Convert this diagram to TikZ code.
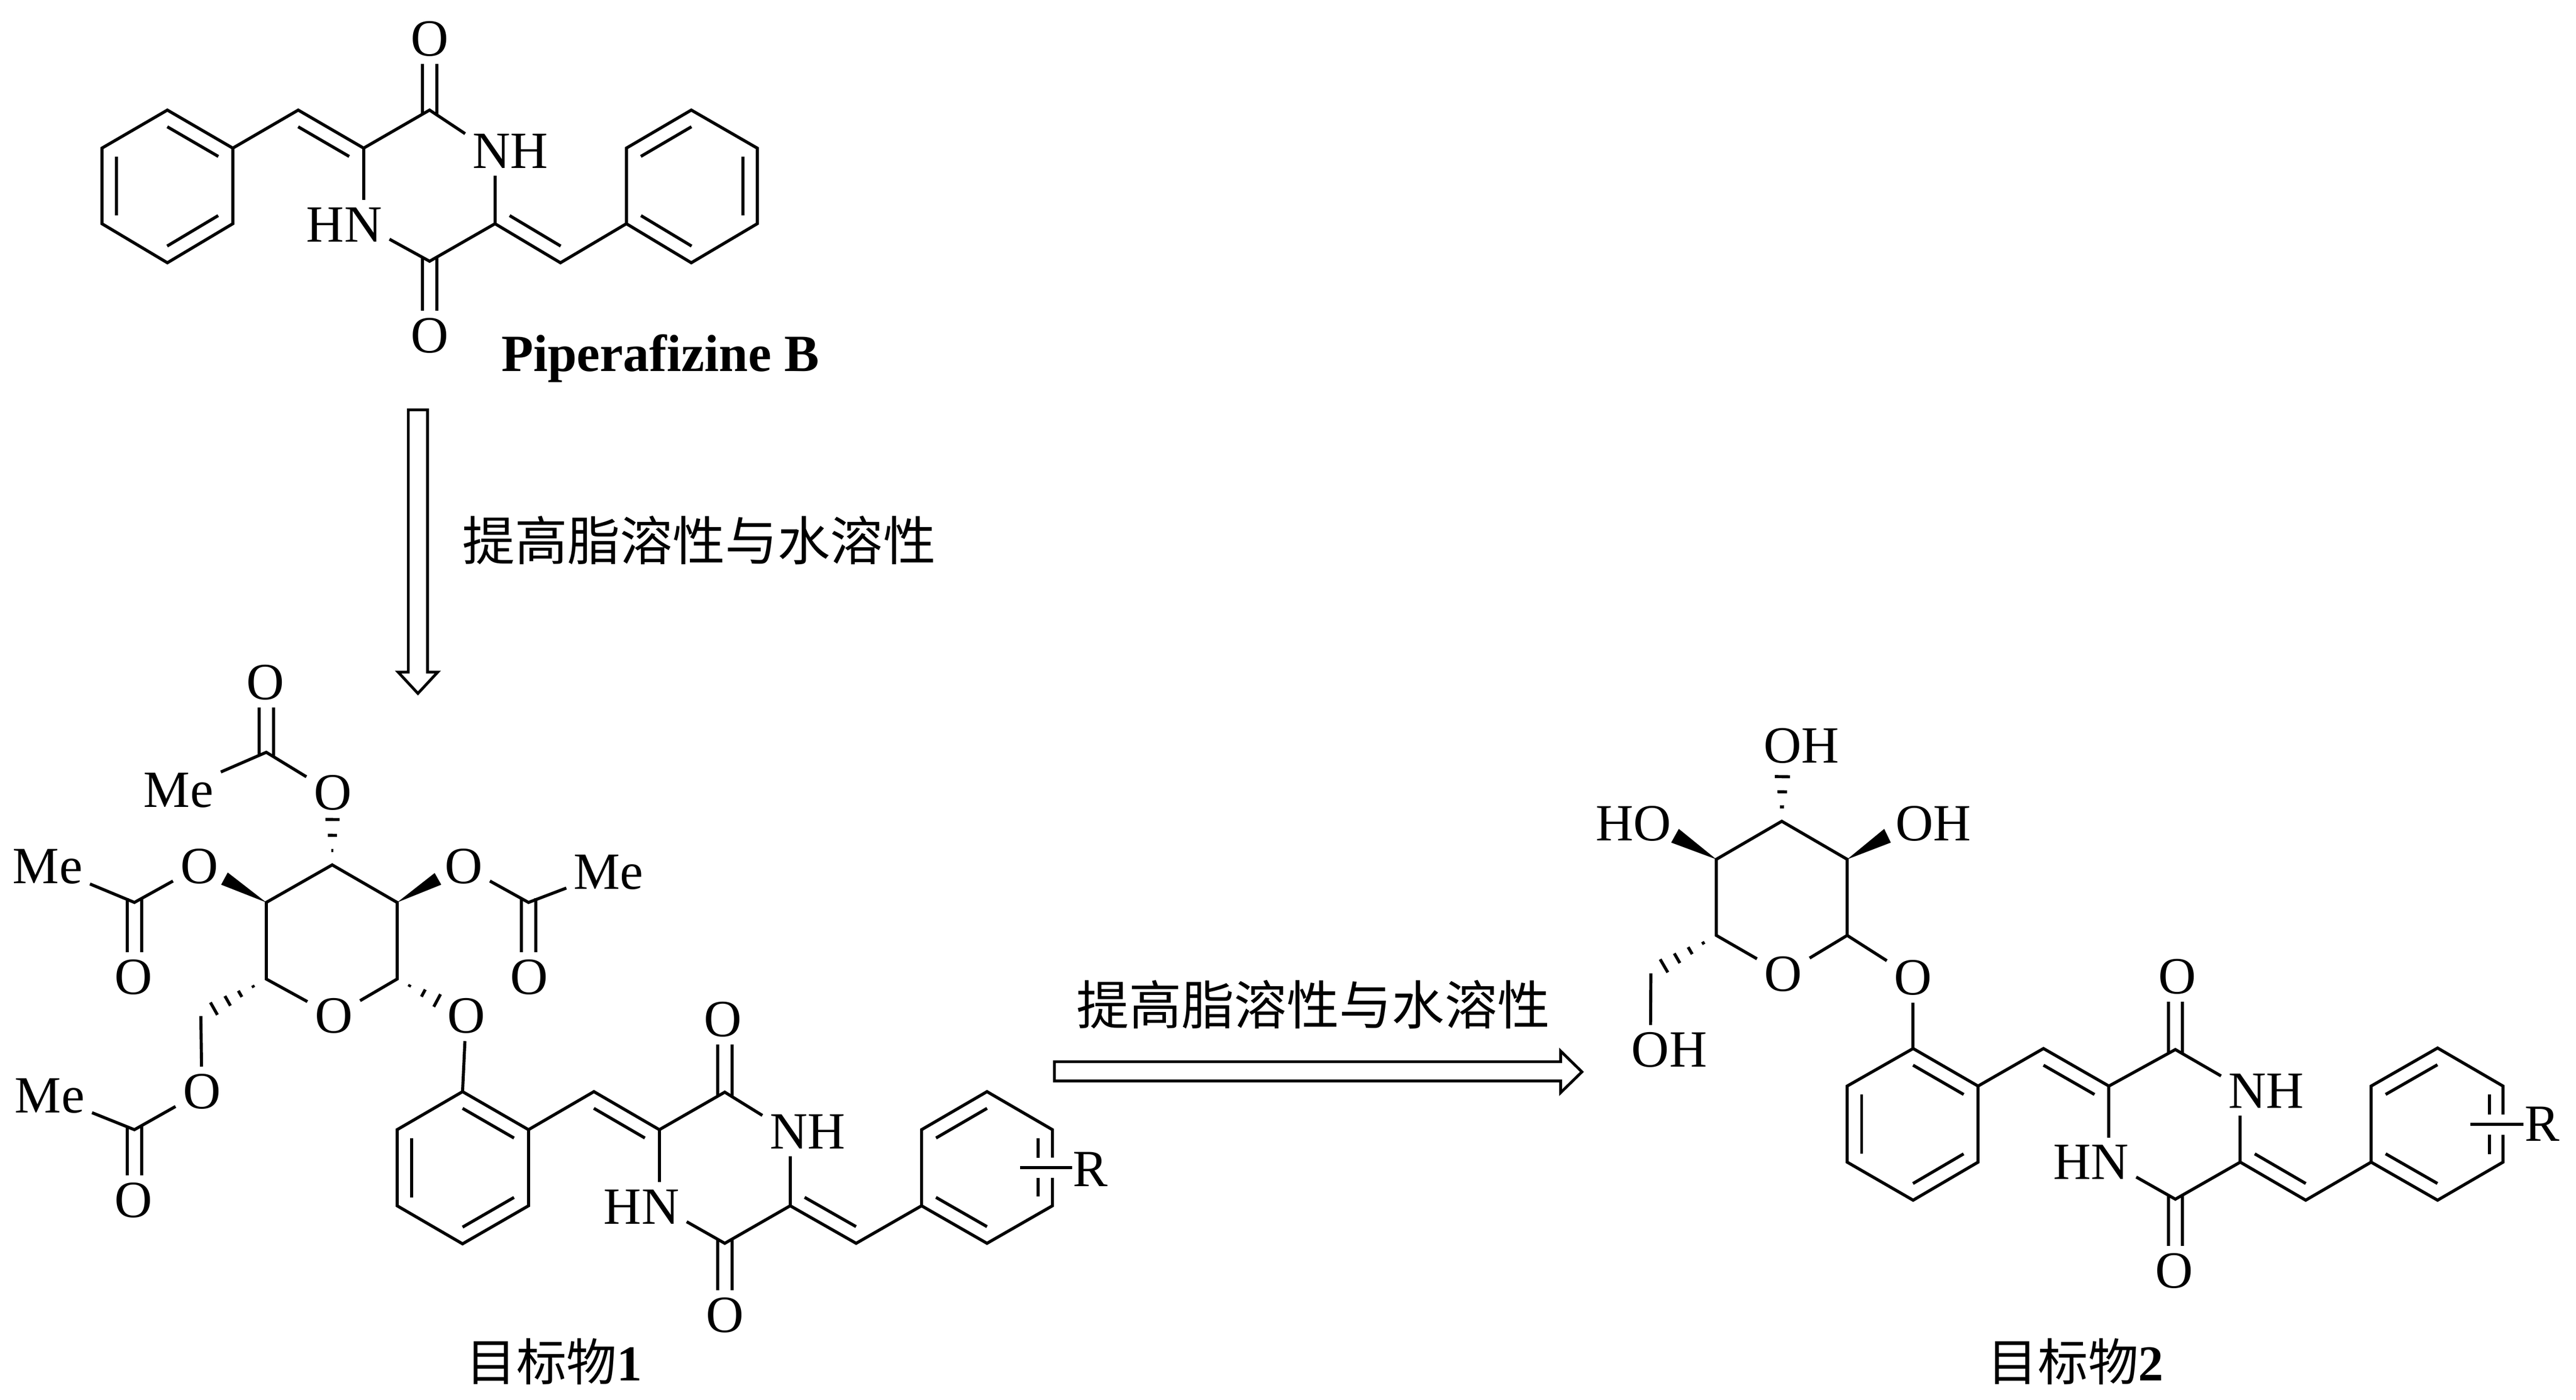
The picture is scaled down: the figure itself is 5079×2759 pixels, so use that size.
\documentclass[tikz,border=0pt]{standalone}
\usepackage{fontspec}
\setmainfont{Liberation Serif}
\newfontfamily\cjk{Noto Sans CJK SC}
\usetikzlibrary{calc}
\tikzset{
  bondl/.style={line width=0.06cm,line cap=butt,line join=miter},
  atom/.style={inner sep=0.14cm,font=\fontsize{29.3}{30}\selectfont},
  atomb/.style={inner sep=0pt,font=\fontsize{29.3}{30}\selectfont\bfseries},
  cjktext/.style={inner sep=0pt,font=\fontsize{29.5}{32}\selectfont\cjk},
  cjklabel/.style={inner sep=0pt,font=\fontsize{28.2}{30}\selectfont\cjk},
  hollow/.style={line width=0.055cm,fill=white,line join=miter}
}
\newcommand{\inb}[2]{\draw[bondl] ($(#1)!0.11!(#2)!0.285cm!-90:(#2)$) -- ($(#2)!0.11!(#1)!0.285cm!90:(#1)$);}
\newcommand{\dbup}[2]{\draw[bondl] ($(#1)+(-.14cm,-.08cm)$) -- ($(#1 |- #2.south)+(-.14cm,0)$);\draw[bondl] ($(#1)+(.14cm,-.08cm)$) -- ($(#1 |- #2.south)+(.14cm,0)$);}
\newcommand{\dbdn}[2]{\draw[bondl] ($(#1)+(-.14cm,.08cm)$) -- ($(#1 |- #2.north)+(-.14cm,0)$);\draw[bondl] ($(#1)+(.14cm,.08cm)$) -- ($(#1 |- #2.north)+(.14cm,0)$);}
\newcommand{\hsh}[4]{\draw[bondl] ($(#1)!#3!(#2)!#4cm!90:(#2)$) -- ($(#1)!#3!(#2)!#4cm!-90:(#2)$);}
\begin{document}
\begin{tikzpicture}[x=0.01cm,y=-0.01cm]
\useasboundingbox (0,0) rectangle (5079,2759);
\fill[white] (0,0) rectangle (5079,2759);
% ---------- Piperafizine B ----------
\foreach \n/\x/\y in {a1/330/217,a2/459/292,a3/459/441,a4/330/518,a5/201/441,a6/201/292,
  b1/1363/217,b2/1493/292,b3/1493/441,b4/1363/518,b5/1235/441,b6/1235/292,
  ch1/588/217,c1/717/292,co1/847/217,c2/976/441,co2/847/515,ch2/1105/518,cn1/717/441,cn2/976/292}
  {\coordinate (p\n) at (\x,\y);}
\node[atom] (pO1) at (847,77) {O};
\node[atom] (pO2) at (847,662) {O};
\node[atom] (pN1) at (969,298) {N\rlap{H}};
\node[atom] (pN2) at (716,443) {\llap{H}N};
\node[atomb,anchor=base west] (pname) at (988,732) {Piperafizine B};
\draw[bondl] (pa1)--(pa2)--(pa3)--(pa4)--(pa5)--(pa6)--cycle;
\draw[bondl] (pb1)--(pb2)--(pb3)--(pb4)--(pb5)--(pb6)--cycle;
\inb{pa1}{pa2}\inb{pa3}{pa4}\inb{pa5}{pa6}
\inb{pb6}{pb1}\inb{pb2}{pb3}\inb{pb4}{pb5}
\draw[bondl] (pa2)--(pch1)--(pc1)--(pco1)--(pN1);
\draw[bondl] (pc1)--(pc1 |- pN2.north);
\draw[bondl] (pb5)--(pch2)--(pc2)--(pco2)--(pN2);
\draw[bondl] (pc2)--(pc2 |- pN1.south);
\inb{pch1}{pc1}\inb{pch2}{pc2}
\dbup{pco1}{pO1}\dbdn{pco2}{pO2}
% ---------- vertical arrow ----------
\coordinate (va1) at (805,808);\coordinate (va2) at (843,808);\coordinate (va3) at (843,1325);
\coordinate (va4) at (863,1325);\coordinate (va5) at (824,1367);\coordinate (va6) at (785,1325);\coordinate (va7) at (805,1325);
\draw[hollow] (va1)--(va2)--(va3)--(va4)--(va5)--(va6)--(va7)--cycle;
\node[cjktext] (vt) at (1378,1065) {提高脂溶性与水溶性};
% ---------- target 1 ----------
\foreach \n/\x/\y in {s3/655/1705,s2/783/1779,s1/783/1930,s5/525/1930,s4/525/1779,ch/396/2003,
  ac1/525/1483,ac2/1042/1779,ac3/265/1779,ac4/265/2227,
  t1/912/2152,t2/1042/2227,t3/1042/2377,t4/912/2452,t5/783/2377,t6/783/2227,
  ch1/1171/2152,c1/1300/2227,co1/1429/2153,c2/1558/2377,co2/1429/2451,ch2/1688/2451,
  r1/1946/2152,r2/2075/2227,r3/2075/2377,r4/1946/2451,r5/1817/2377,r6/1817/2227,
  w1/857/1721,w2/870/1744,w3/449/1720,w4/436/1744,
  ra/2075/2282,rb/2075/2322,ria/2047/2244,rib/2047/2282,ric/2047/2322,rid/2047/2359,rs/2011/2302,re/2114/2302}
  {\coordinate (m\n) at (\x,\y);}
\node[atom] (mOr) at (658,2003) {O};
\node[atom] (mOa) at (656,1563) {O};
\node[atom] (mOb) at (914,1708) {O};
\node[atom] (mOc) at (393,1708) {O};
\node[atom] (mOd) at (398,2152) {O};
\node[atom] (mOe) at (919,2003) {O};
\node[atom] (mOf) at (523,1345) {O};
\node[atom] (mOg) at (1043,1926) {O};
\node[atom] (mOh) at (263,1926) {O};
\node[atom] (mOi) at (263,2366) {O};
\node[atom] (mMa) at (352,1558) {Me};
\node[atom] (mMb) at (1200,1719) {Me};
\node[atom] (mMc) at (94,1708) {Me};
\node[atom] (mMd) at (98,2160) {Me};
\node[atom] (mOj) at (1425,2010) {O};
\node[atom] (mOk) at (1429,2593) {O};
\node[atom] (mN1) at (1555,2231) {N\rlap{H}};
\node[atom] (mN2) at (1302,2379) {\llap{H}N};
\node[atom] (mR) at (2150,2305) {R};
\node[cjklabel,anchor=base west] (mlab) at (918,2722) {目标物\textbf{\fontspec{Liberation Serif}1}};
\draw[bondl] (mOr)--(ms5)--(ms4)--(ms3)--(ms2)--(ms1)--(mOr);
\hsh{ms3}{mOa}{.2}{.02}\hsh{ms3}{mOa}{.41}{.09}\hsh{ms3}{mOa}{.63}{.14}
\fill (ms2)--(mw1)--(mw2)--cycle;
\fill (ms4)--(mw3)--(mw4)--cycle;
\hsh{ms1}{mOe}{.18}{.025}\hsh{ms1}{mOe}{.38}{.08}\hsh{ms1}{mOe}{.58}{.14}
\hsh{ms5}{mch}{.2}{.025}\hsh{ms5}{mch}{.4}{.07}\hsh{ms5}{mch}{.59}{.11}\hsh{ms5}{mch}{.8}{.14}
\draw[bondl] (mch)--(mOd);
\draw[bondl] (mMa)--(mac1)--(mOa);
\draw[bondl] (mOb)--(mac2)--(mMb);
\draw[bondl] (mOc)--(mac3)--(mMc);
\draw[bondl] (mOd)--(mac4)--(mMd);
\dbup{mac1}{mOf}\dbdn{mac2}{mOg}\dbdn{mac3}{mOh}\dbdn{mac4}{mOi}
\draw[bondl] (mOe)--(mt1);
\draw[bondl] (mt1)--(mt2)--(mt3)--(mt4)--(mt5)--(mt6)--cycle;
\inb{mt1}{mt2}\inb{mt3}{mt4}\inb{mt5}{mt6}
\draw[bondl] (mt2)--(mch1)--(mc1)--(mco1)--(mN1);
\draw[bondl] (mc1)--(mc1 |- mN2.north);
\draw[bondl] (mr5)--(mch2)--(mc2)--(mco2)--(mN2);
\draw[bondl] (mc2)--(mc2 |- mN1.south);
\inb{mch1}{mc1}\inb{mch2}{mc2}
\dbup{mco1}{mOj}\dbdn{mco2}{mOk}
\draw[bondl] (mra)--(mr2)--(mr1)--(mr6)--(mr5)--(mr4)--(mr3)--(mrb);
\inb{mr6}{mr1}\inb{mr4}{mr5}
\draw[bondl] (mria)--(mrib);\draw[bondl] (mric)--(mrid);
\draw[bondl] (mrs)--(mre);
% ---------- horizontal arrow ----------
\coordinate (ha1) at (2079,2093);\coordinate (ha2) at (3077,2093);\coordinate (ha3) at (3077,2072);
\coordinate (ha4) at (3119,2113);\coordinate (ha5) at (3077,2154);\coordinate (ha6) at (3077,2131);\coordinate (ha7) at (2079,2131);
\draw[hollow] (ha1)--(ha2)--(ha3)--(ha4)--(ha5)--(ha6)--(ha7)--cycle;
\node[cjktext] (ht) at (2589,1980) {提高脂溶性与水溶性};
% ---------- target 2 ----------
\foreach \n/\x/\y in {s3/3513/1619,s2/3642/1694,s1/3642/1844,s5/3384/1844,s4/3384/1694,ch/3255/1919,
  t1/3772/2067,t2/3900/2141,t3/3900/2291,t4/3772/2366,t5/3642/2291,t6/3642/2141,
  ch1/4029/2067,c1/4158/2141,co1/4289/2069,c2/4417/2291,co2/4289/2364,ch2/4546/2366,
  r1/4806/2066,r2/4935/2141,r3/4935/2291,r4/4806/2366,r5/4675/2291,r6/4675/2141,
  w1/3715/1634,w2/3728/1661,w3/3310/1634,w4/3295/1661,
  ra/4935/2197,rb/4935/2237,ria/4908/2158,rib/4908/2197,ric/4908/2237,rid/4908/2275,rs/4871/2216,re/4975/2216}
  {\coordinate (n\n) at (\x,\y);}
\node[atom] (nOr) at (3516,1920) {O};
\node[atom] (nOa) at (3515,1470) {O\rlap{H}};
\node[atom] (nOb) at (3775,1624) {O\rlap{H}};
\node[atom] (nOc) at (3258,1624) {\llap{H}O};
\node[atom] (nOd) at (3254,2070) {O\rlap{H}};
\node[atom] (nOe) at (3772,1927) {O};
\node[atom] (nOj) at (4293,1925) {O};
\node[atom] (nOk) at (4287,2505) {O};
\node[atom] (nN1) at (4431,2151) {N\rlap{H}};
\node[atom] (nN2) at (4160,2291) {\llap{H}N};
\node[atom] (nR) at (5012,2216) {R};
\node[cjklabel,anchor=base west] (nlab) at (3918,2722) {目标物\textbf{\fontspec{Liberation Serif}2}};
\draw[bondl] (nOr)--(ns5)--(ns4)--(ns3)--(ns2)--(ns1)--(nOr);
\hsh{ns3}{nOa}{.19}{.04}\hsh{ns3}{nOa}{.39}{.095}\hsh{ns3}{nOa}{.59}{.15}
\fill (ns2)--(nw1)--(nw2)--cycle;
\fill (ns4)--(nw3)--(nw4)--cycle;
\hsh{ns5}{nch}{.2}{.03}\hsh{ns5}{nch}{.4}{.08}\hsh{ns5}{nch}{.6}{.11}\hsh{ns5}{nch}{.8}{.15}
\draw[bondl] (nch)--(nOd);
\draw[bondl] (ns1)--(nOe);
\draw[bondl] (nOe)--(nt1);
\draw[bondl] (nt1)--(nt2)--(nt3)--(nt4)--(nt5)--(nt6)--cycle;
\inb{nt1}{nt2}\inb{nt3}{nt4}\inb{nt5}{nt6}
\draw[bondl] (nt2)--(nch1)--(nc1)--(nco1)--(nN1);
\draw[bondl] (nc1)--(nc1 |- nN2.north);
\draw[bondl] (nr5)--(nch2)--(nc2)--(nco2)--(nN2);
\draw[bondl] (nc2)--(nc2 |- nN1.south);
\inb{nch1}{nc1}\inb{nch2}{nc2}
\dbup{nco1}{nOj}\dbdn{nco2}{nOk}
\draw[bondl] (nra)--(nr2)--(nr1)--(nr6)--(nr5)--(nr4)--(nr3)--(nrb);
\inb{nr6}{nr1}\inb{nr4}{nr5}
\draw[bondl] (nria)--(nrib);\draw[bondl] (nric)--(nrid);
\draw[bondl] (nrs)--(nre);
\end{tikzpicture}
\end{document}
